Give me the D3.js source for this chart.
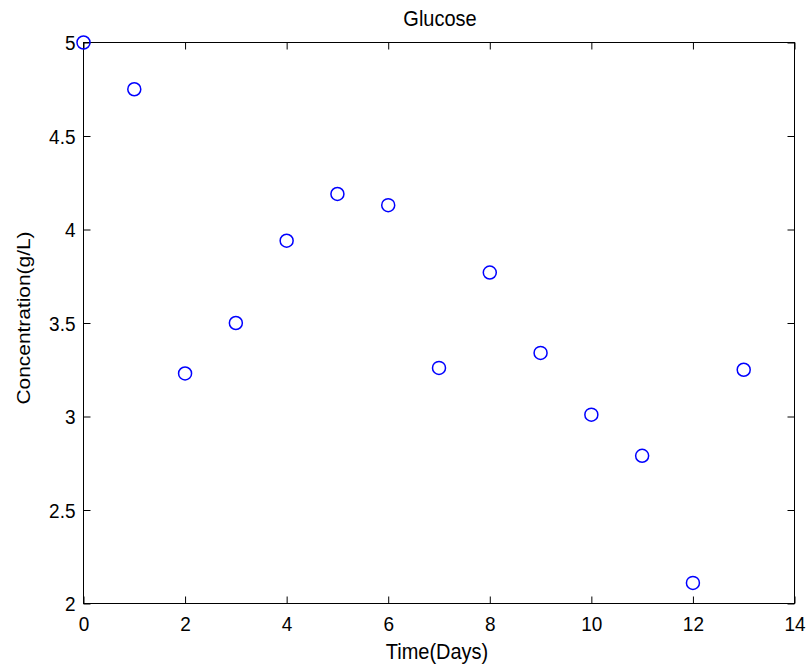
<!DOCTYPE html>
<html>
<head>
<meta charset="utf-8">
<script src="https://cdn.jsdelivr.net/npm/d3@7"></script>
<style>
  html, body { margin: 0; padding: 0; background: #fff; }
  svg { display: block; }
  text { font-family: "Liberation Sans", Arial, Helvetica, sans-serif; fill: #000; }
</style>
</head>
<body>
<svg id="chart" width="810" height="669"></svg>
<script>
// Glucose concentration measured once per day
const days = [0, 1, 2, 3, 4, 5, 6, 7, 8, 9, 10, 11, 12, 13];
const glucose = [5.0, 4.75, 3.23, 3.50, 3.94, 4.19, 4.13, 3.26, 3.77, 3.34, 3.01, 2.79, 2.11, 3.25];
const xTicks = [0, 2, 4, 6, 8, 10, 12, 14];
const yTicks = [2, 2.5, 3, 3.5, 4, 4.5, 5];
const titleText = "Glucose";
const xLabel = "Time(Days)";
const yLabel = "Concentration(g/L)";

const svg = d3.select("#chart");
const box = { left: 83.5, right: 794.5, top: 42.5, bottom: 603.5 };
const tickLen = 7;
const stretch = 1.1; // glyphs are a little taller than they are wide

const x = d3.scaleLinear().domain([0, 14]).range([box.left, box.right]);
const y = d3.scaleLinear().domain([2, 5]).range([box.bottom, box.top]);

const fmt = d => String(d);

// Axis frame
svg.append("rect")
  .attr("x", box.left).attr("y", box.top)
  .attr("width", box.right - box.left).attr("height", box.bottom - box.top)
  .attr("fill", "none").attr("stroke", "#000").attr("stroke-width", 1);

// Ticks drawn inward on all four sides, labels on bottom and left
const bottomAxis = d3.axisBottom(x).tickValues(xTicks).tickFormat(fmt).tickSizeInner(-tickLen).tickSizeOuter(0).tickPadding(12);
const topAxis = d3.axisTop(x).tickValues(xTicks).tickFormat("").tickSizeInner(-tickLen).tickSizeOuter(0);
const leftAxis = d3.axisLeft(y).tickValues(yTicks).tickFormat(fmt).tickSizeInner(-tickLen).tickSizeOuter(0).tickPadding(9);
const rightAxis = d3.axisRight(y).tickValues(yTicks).tickFormat("").tickSizeInner(-tickLen).tickSizeOuter(0);

function styleAxis(g) {
  g.select(".domain").remove();
  g.selectAll(".tick line").attr("stroke", "#000").attr("stroke-width", 1);
  g.selectAll(".tick text")
    .attr("font-size", 19)
    .attr("font-family", "'Liberation Sans', Arial, sans-serif")
    .attr("fill", "#000");
}

const gb = svg.append("g").attr("transform", `translate(0,${box.bottom})`).call(bottomAxis).call(styleAxis);
gb.selectAll(".tick text").attr("dy", null).attr("y", 0)
  .attr("transform", `translate(0,${27}) scale(1,${stretch})`);

svg.append("g").attr("transform", `translate(0,${box.top})`).call(topAxis).call(styleAxis);

const gl = svg.append("g").attr("transform", `translate(${box.left},0)`).call(leftAxis).call(styleAxis);
gl.selectAll(".tick text").attr("dy", null).attr("x", 0).attr("y", 0)
  .attr("transform", `translate(-8,${7}) scale(1,${stretch})`);

svg.append("g").attr("transform", `translate(${box.right},0)`).call(rightAxis).call(styleAxis);

// Measured points as open circles
svg.append("g")
  .selectAll("circle")
  .data(days.map((d, i) => ({ day: d, value: glucose[i] })))
  .join("circle")
  .attr("cx", d => x(d.day))
  .attr("cy", d => y(d.value))
  .attr("r", 6.5)
  .attr("fill", "none")
  .attr("stroke", "#0000ff")
  .attr("stroke-width", 1.5);

// Title and axis labels
const midX = (box.left + box.right) / 2;
svg.append("text")
  .attr("text-anchor", "middle")
  .attr("font-size", 20)
  .attr("transform", `translate(${midX + 1},26) scale(1,${stretch})`)
  .text(titleText);

svg.append("text")
  .attr("text-anchor", "middle")
  .attr("font-size", 20)
  .attr("transform", `translate(${midX - 2},659) scale(1,${stretch})`)
  .text(xLabel);

svg.append("text")
  .attr("text-anchor", "middle")
  .attr("font-size", 19)
  .attr("transform", `translate(30,${318}) rotate(-90) scale(${stretch},1)`)
  .text(yLabel);
</script>
</body>
</html>
